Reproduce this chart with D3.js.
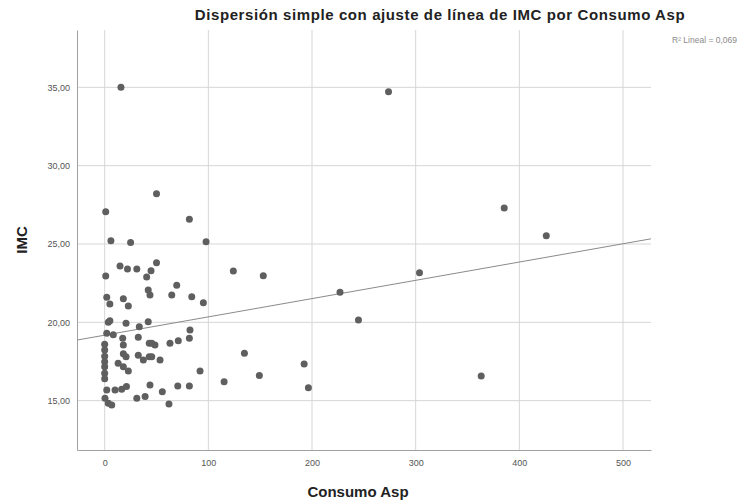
<!DOCTYPE html>
<html><head><meta charset="utf-8">
<script src="https://cdn.jsdelivr.net/npm/d3@7"></script>
<style>body{margin:0;background:#fff}svg{display:block}</style>
</head><body>
<svg id="c" width="740" height="501"></svg>
<script>
const title = "Dispersión simple con ajuste de línea de IMC por Consumo Asp";
const xLabel = "Consumo Asp";
const yLabel = "IMC";
const fitLabel = "R² Lineal = 0,069";
const xTicks = [0, 100, 200, 300, 400, 500];
const yTicks = [15, 20, 25, 30, 35];
const fitIntercept = 19.18;
const fitSlope = 0.01167;
const consumo = [15.7,273.8,50,1,81.7,385.4,426,6,25,97.8,14.8,22,31,50,44.7,40.5,1,42,43.7,69.5,64.7,84,95.2,124.1,153,227,303.7,244.8,134.8,115.2,149.2,192.4,196.5,363.2,92,
 2,5,18,22.8,3.5,5,20.6,33.4,42,2,8.3,17.4,32.4,43,48.5,63,71,81.7,82.3,0,0,0,0,0,0,18,18,20.6,32.4,37.3,43,53.4,13,18,22.8,2,10,16.4,21,43.7,70.5,81.7,55.6,0.3,3.5,6.8,31,39,62,0,45.4,45.4];
const imc = [35.0,34.72,28.2,27.06,26.58,27.3,25.53,25.2,25.1,25.15,23.6,23.4,23.4,23.8,23.3,22.9,22.96,22.07,21.75,22.36,21.75,21.64,21.25,23.28,22.98,21.92,23.17,20.15,18.02,16.21,16.6,17.34,15.83,16.58,16.9,
 21.6,21.17,21.5,21.04,20.0,20.1,19.94,19.72,20.04,19.3,19.2,18.98,19.05,18.66,18.55,18.66,18.83,18.98,19.51,18.24,17.83,17.49,17.17,16.75,18.6,18.55,18.0,17.8,17.9,17.6,17.8,17.6,17.39,17.17,16.9,15.68,15.68,15.73,15.9,16.0,15.94,15.94,15.57,15.15,14.83,14.73,15.15,15.26,14.79,16.4,18.66,17.8];

const svg = d3.select("#c");
const x = d3.scaleLinear().domain([-26.7, 527]).range([77, 651]);
const y = d3.scaleLinear().domain([11.85, 38.66]).range([450, 30]);
const FONT = "Liberation Sans, Arial, sans-serif";

// grid
svg.append("g").selectAll("line").data(xTicks).join("line")
  .attr("x1", d => x(d)).attr("x2", d => x(d)).attr("y1", 30).attr("y2", 450)
  .attr("stroke", "#d6d6d6").attr("stroke-width", 1);
svg.append("g").selectAll("line").data(yTicks).join("line")
  .attr("x1", 77).attr("x2", 651).attr("y1", d => y(d)).attr("y2", d => y(d))
  .attr("stroke", "#d6d6d6").attr("stroke-width", 1);

// axes
const xa = svg.append("g").attr("transform", "translate(0,450)")
  .call(d3.axisBottom(x).tickValues(xTicks).tickSize(0).tickPadding(10).tickFormat(d3.format("d")));
const ya = svg.append("g").attr("transform", "translate(77,0)")
  .call(d3.axisLeft(y).tickValues(yTicks).tickSize(0).tickPadding(7).tickFormat(d => d.toFixed(2).replace(".", ",")));
[xa, ya].forEach(g => {
  g.select(".domain").attr("stroke", "#a0a0a0");
  g.selectAll("text").attr("fill", "#555").attr("font-family", FONT).attr("font-size", 9);
});

// fit line
svg.append("line")
  .attr("x1", x(-26.7)).attr("y1", y(fitIntercept + fitSlope * -26.7))
  .attr("x2", x(527)).attr("y2", y(fitIntercept + fitSlope * 527))
  .attr("stroke", "#8a8a8a").attr("stroke-width", 1);

// points
svg.append("g").selectAll("circle").data(d3.range(consumo.length)).join("circle")
  .attr("cx", i => x(consumo[i])).attr("cy", i => y(imc[i])).attr("r", 3.5)
  .attr("fill", "#5f5f5f");

// texts
svg.append("text").attr("x", 440).attr("y", 20).attr("text-anchor", "middle")
  .attr("font-family", FONT).attr("font-weight", "bold").attr("font-size", 15)
  .attr("letter-spacing", 0.6)
  .attr("fill", "#222").text(title);
svg.append("text").attr("x", 358).attr("y", 497).attr("text-anchor", "middle")
  .attr("font-family", FONT).attr("font-weight", "bold").attr("font-size", 15)
  .attr("fill", "#222").text(xLabel);
svg.append("text").attr("transform", "translate(27,240) rotate(-90)").attr("text-anchor", "middle")
  .attr("font-family", FONT).attr("font-weight", "bold").attr("font-size", 15)
  .attr("fill", "#222").text(yLabel);
svg.append("text").attr("x", 737).attr("y", 43).attr("text-anchor", "end")
  .attr("font-family", FONT).attr("font-size", 8.5)
  .attr("fill", "#8c8c8c").text(fitLabel);
</script>
</body></html>
